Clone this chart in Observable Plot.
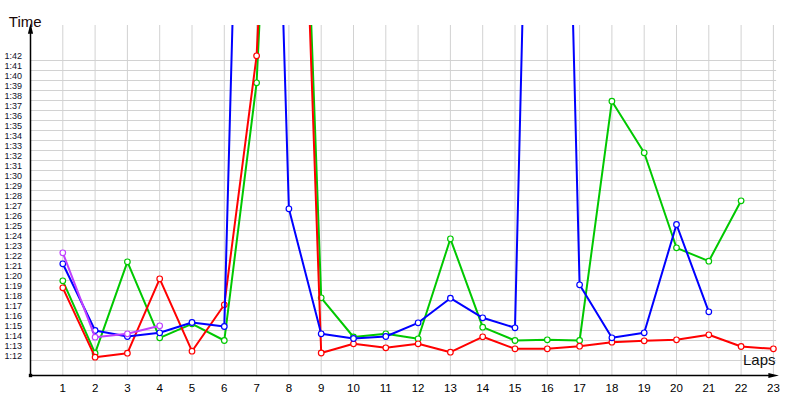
<!DOCTYPE html>
<html><head><meta charset="utf-8">
<script src="https://cdn.jsdelivr.net/npm/d3@7"></script>
<script src="https://cdn.jsdelivr.net/npm/@observablehq/plot@0.6"></script>
<style>body{margin:0;background:#fff}</style>
</head><body><div id="chart"></div>
<script>
// Laps (x categories)
const laps = [1,2,3,4,5,6,7,8,9,10,11,12,13,14,15,16,17,18,19,20,21,22,23];
// Lap times in seconds for each driver/series
const redTimes    = [79.27,72.33,72.73,80.17,72.93,77.57,102.47,166,72.75,73.67,73.27,73.67,72.83,74.37,73.17,73.17,73.43,73.83,73.97,74.07,74.57,73.4,73.17];
const greenTimes  = [79.97,72.73,81.87,74.27,75.67,74.0,99.77,167,78.27,74.35,74.67,74.17,84.17,75.33,74.0,74.07,74.0,97.93,92.77,83.27,81.93,87.97];
const blueTimes   = [81.67,75.0,74.4,74.77,75.8,75.4,195,87.17,74.67,74.2,74.4,75.77,78.23,76.27,75.27,208.5,79.57,74.27,74.77,85.6,76.87];
const purpleTimes = [82.77,74.33,74.67,75.47];
// Y tick values (seconds) -> labels 1:12 ... 1:42
const yTicks = [72,73,74,75,76,77,78,79,80,81,82,83,84,85,86,87,88,89,90,91,92,93,94,95,96,97,98,99,100,101,102];
const yDomain = [70.5, 105.5];
const xDomain = [0, 23];

const fmt = v => Math.floor(v/60) + ":" + String(v % 60).padStart(2, "0");
const rows = vals => vals.map((t, i) => ({lap: laps[i], t}));

const series = [
  {vals: greenTimes,  color: "#00c800"},
  {vals: redTimes,    color: "#ff0000"},
  {vals: blueTimes,   color: "#0000ff"},
  {vals: purpleTimes, color: "#c040ff"}
];

const arrowHead = {
  draw(ctx) { ctx.moveTo(0, 0); ctx.lineTo(-2.6, 10.5); ctx.lineTo(2.6, 10.5); ctx.closePath(); }
};

const seriesMarks = series.flatMap(s => [
  Plot.line(rows(s.vals), {x: "lap", y: "t", stroke: s.color, strokeWidth: 2, clip: true}),
  Plot.dot(rows(s.vals), {x: "lap", y: "t", r: 2.8, fill: "white", stroke: s.color, strokeWidth: 1.2, clip: true})
]);

const chart = Plot.plot({
  width: 800,
  height: 400,
  marginLeft: 30,
  marginRight: 15,
  marginTop: 25,
  marginBottom: 25,
  style: {fontFamily: "Liberation Sans, Arial, sans-serif", background: "white", color: "black"},
  x: {type: "linear", domain: xDomain, range: [30, 772.9], label: null, axis: null},
  y: {type: "linear", domain: yDomain, label: null, axis: null},
  marks: [
    Plot.ruleY(yTicks, {y: d => d, x1: 0, x2: 23.1, stroke: "#d2d2d2", strokeWidth: 1}),
    Plot.ruleX(laps, {x: d => d, y1: yDomain[0], y2: yDomain[1], stroke: "#d2d2d2", strokeWidth: 1}),
    ...seriesMarks,
    Plot.ruleX([0], {x: d => d, y1: yDomain[0], y2: 105.3, stroke: "black", strokeWidth: 1.5}),
    Plot.ruleY([yDomain[0]], {y: d => d, x1: 0, x2: 23.0, stroke: "black", strokeWidth: 1.5}),
    Plot.dot([0], {x: 0, y: 105.73, symbol: arrowHead, fill: "black", stroke: "none", rotate: 0}),
    Plot.dot([0], {x: 23.17, y: yDomain[0], symbol: arrowHead, fill: "black", stroke: "none", rotate: 90}),
    Plot.dot([0], {x: 0, y: yDomain[0], symbol: "square", r: 1.9, fill: "black", stroke: "none"}),
    Plot.text(yTicks, {x: 0, y: d => d, text: fmt, textAnchor: "start", dx: -26, dy: -4, fontSize: 9, fill: "#10102a"}),
    Plot.axisX({ticks: laps, tickSize: 0, tickPadding: 8.5, fontSize: 11.5, tickFormat: d => String(d), label: null}),
    Plot.text(["Time"], {frameAnchor: "top-left", text: d => d, textAnchor: "start", dx: -21.7, dy: -9.1, fontSize: 15, fill: "#1a0808"}),
    Plot.text(["Laps"], {frameAnchor: "bottom-right", text: d => d, textAnchor: "end", dx: -10, dy: -10.5, fontSize: 15, fill: "#111"})
  ]
});
document.getElementById("chart").appendChild(chart);
</script>
</body></html>
